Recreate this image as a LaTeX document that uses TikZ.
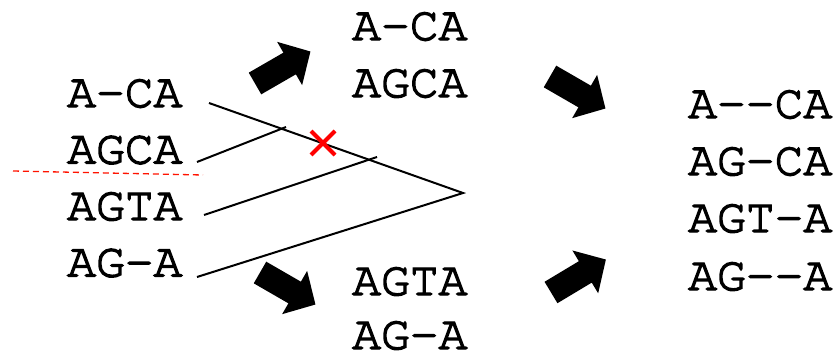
\documentclass[tikz,border=0pt]{standalone}
\usepackage{fontspec}
\newfontfamily\seqfont{TeX Gyre Cursor}[FakeBold=3]
\usetikzlibrary{calc}
\begin{document}
\begin{tikzpicture}[x=1pt,y=1pt,
  seq/.style={anchor=base west,inner sep=0pt,font=\seqfont\fontsize{48}{48}\selectfont},
  branch/.style={line width=2pt,black},
  cut/.style={red!85!orange,line width=1.3pt,dash pattern=on 6pt off 4pt},
  cross/.style={red,line width=4pt},
  blockarrow/.pic={\fill[black] (0,-12.5) -- (40,-12.5) -- (40,-25) -- (64,0) -- (40,25) -- (40,12.5) -- (0,12.5) -- cycle;}]
\useasboundingbox (0,0) rectangle (834,-351);

% input sequences
\node[seq] (l1) at (67,-107) {A–CA};
\node[seq] (l2) at (67,-163.5) {AGCA};
\node[seq] (l3) at (67,-220) {AGTA};
\node[seq] (l4) at (67,-276.5) {AG–A};

% guide tree
\coordinate (root) at (463,-193);
\coordinate (t1) at (209,-103);
\coordinate (t2) at (197,-162);
\coordinate (t3) at (204,-215);
\coordinate (t4) at (197,-277);
\coordinate (j2) at (286,-127);
\coordinate (j3) at (377,-157);
\draw[branch] (t1) -- (root) -- (t4);
\draw[branch] (t2) -- (j2);
\draw[branch] (t3) -- (j3);

% cut through the tree
\coordinate (c1) at (13,-171);
\coordinate (c2) at (203,-175);
\draw[cut] (c1) -- (c2);
\coordinate (x) at (323,-143);
\draw[cross] ($(x)+(-12,-12)$) -- ($(x)+(12,12)$) ($(x)+(-12,12)$) -- ($(x)+(12,-12)$);

% sub-alignments
\node[seq] (m1) at (352,-40) {A–CA};
\node[seq] (m2) at (352,-97) {AGCA};
\node[seq] (m3) at (352,-295) {AGTA};
\node[seq] (m4) at (352,-349) {AG–A};

% merged alignment
\node[seq] (r1) at (688,-118) {A––CA};
\node[seq] (r2) at (688,-175) {AG–CA};
\node[seq] (r3) at (688,-232) {AGT–A};
\node[seq] (r4) at (688,-290) {AG––A};

% block arrows
\pic[rotate=30] at (255,-83.5) {blockarrow};
\pic[rotate=-30] at (260,-272.5) {blockarrow};
\pic[rotate=-30] at (550,-76.5) {blockarrow};
\pic[rotate=31] at (551,-292.5) {blockarrow};
\end{tikzpicture}
\end{document}
